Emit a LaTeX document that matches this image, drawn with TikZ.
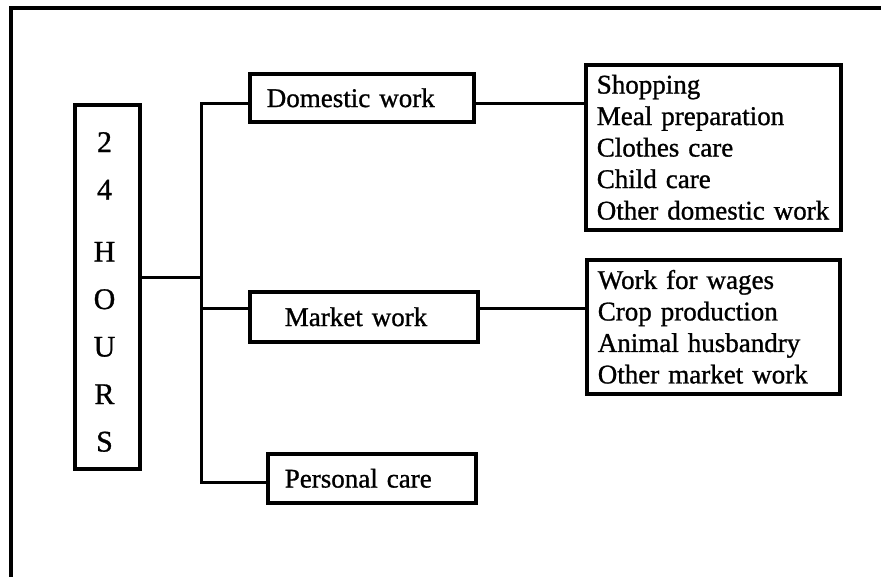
\documentclass[tikz,border=0pt]{standalone}
\usepackage{fontspec}
\setmainfont{Liberation Serif}[FakeBold=1.0]
\usetikzlibrary{positioning}
\begin{document}
\begin{tikzpicture}[x=1pt,y=-1pt,
  box/.style={draw=black,line width=3.6pt,rectangle,inner ysep=0pt,
    font=\fontsize{27}{31.5}\selectfont,anchor=north west},
  wire/.style={draw=black,line width=3pt,line join=miter},
  frame/.style={draw=black,line width=4pt}]
\useasboundingbox (0,0) rectangle (881,576);
% page frame: left and top rules only
\coordinate (fb) at (11,578);
\coordinate (fc) at (11,8);
\coordinate (fr) at (883,8);
\draw[frame] (fb) -- (fc) -- (fr);

% the 24 HOURS column
\node[box,minimum width=65pt,minimum height=364pt] (hours) at (73,103) {};
\node[font=\fontsize{30}{47.5}\selectfont,align=center,inner sep=0pt]
  (hourstext) at (104.5,292) {2\\4\\[14.5pt]H\\O\\U\\R\\S};

% categories
\node[box,minimum width=224pt,minimum height=48pt,text width=190pt,
  inner xsep=17pt,align=left] (dom) at (248,72) {Domestic work};
\node[box,minimum width=228pt,minimum height=50pt,text width=158pt,
  inner xsep=35pt,align=left] (mkt) at (248,290) {Market work};
\node[box,minimum width=208pt,minimum height=49pt,text width=174pt,
  inner xsep=17pt,align=left] (pers) at (266,452) {Personal care};

% activity lists
\node[box,minimum width=255pt,minimum height=165pt,text width=233pt,
  inner xsep=11pt,align=left] (domlist) at (584,63)
  {Shopping\\Meal preparation\\Clothes care\\Child care\\Other domestic work};
\node[box,minimum width=253pt,minimum height=134pt,text width=231pt,
  inner xsep=11pt,align=left] (mktlist) at (585,258)
  {Work for wages\\Crop production\\Animal husbandry\\Other market work};

% trunk of the tree
\coordinate (ttop) at (201,103);
\coordinate (tmid) at (201,277);
\coordinate (tmkt) at (201,308);
\coordinate (tbot) at (201,482);

\draw[wire] (hours.east |- tmid) -- (tmid);
\draw[wire] (dom.west |- ttop) -- (ttop) -- (tbot) -- (pers.west |- tbot);
\draw[wire] (tmkt) -- (mkt.west |- tmkt);
\draw[wire] (dom.east |- ttop) -- (domlist.west |- ttop);
\draw[wire] (mkt.east |- tmkt) -- (mktlist.west |- tmkt);
\end{tikzpicture}
\end{document}
